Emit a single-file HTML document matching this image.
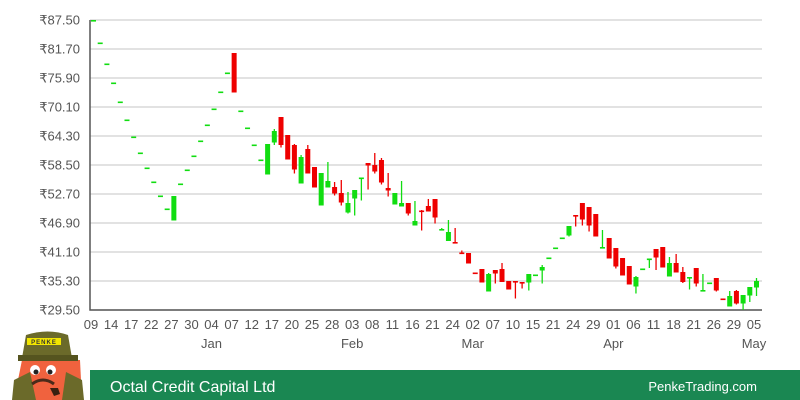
<!DOCTYPE html>
<html><head><meta charset="utf-8"><style>
body{margin:0;width:800px;height:400px;overflow:hidden;background:#fff;font-family:"Liberation Sans",sans-serif}
svg{display:block}
</style></head><body>
<svg id="chart" width="800" height="400">
<g id="grid"></g>
<g id="yaxis"></g>
<g id="xaxis"></g>
<g id="candles"></g>
<g>
<path d="M22 360 L80 360 L82 400 L14 400 Z" fill="#f0623e"/>
<path d="M14 380 L30 372 L36 400 L12 400 Z" fill="#6b6a2a"/>
<path d="M82 380 L66 372 L62 400 L84 400 Z" fill="#6b6a2a"/>
<path d="M26 335 Q48 328 68 335 L72 358 L22 358 Z" fill="#6b6a2a"/>
<rect x="18" y="355" width="60" height="6" fill="#55541f"/>
<rect x="27" y="338" width="34" height="7" fill="#f2e600"/>
<text x="44" y="344" font-size="6" font-weight="bold" text-anchor="middle" fill="#333" letter-spacing="1">PENKE</text>
<circle cx="35" cy="370" r="5" fill="#fff"/><circle cx="51" cy="370" r="5" fill="#fff"/>
<circle cx="36" cy="372" r="2.5" fill="#222"/><circle cx="50" cy="372" r="2.5" fill="#222"/>
<path d="M32 384 Q43 376 54 384" stroke="#4a2a1a" stroke-width="3" fill="none"/>
<path d="M50 388 L54 396 L60 394 L58 388 Z" fill="#3a2010"/>
</g>
<rect x="90" y="370" width="710" height="30" fill="#1a8752"/>
<text x="110" y="392" font-size="16" fill="#fff">Octal Credit Capital Ltd</text>
<text x="757" y="391" font-size="13" fill="#fff" text-anchor="end">PenkeTrading.com</text>
</svg>
<script>
const opens=[87.5,83.0,78.8,75.0,71.2,67.6,64.2,61.0,58.0,55.2,52.4,49.8,47.4,54.8,57.6,60.4,63.4,66.6,69.8,73.2,77.0,80.9,69.4,66.0,62.6,59.6,56.6,63.0,68.1,64.5,62.5,54.8,61.7,58.1,50.4,54.0,54.1,52.9,49.0,51.8,56.0,58.9,58.5,59.5,53.9,50.6,50.2,50.9,46.4,49.4,50.3,51.7,45.7,43.3,43.1,41.0,40.9,37.0,37.7,33.2,37.5,37.7,35.3,35.3,35.1,35.0,36.6,37.4,40.0,42.0,44.0,44.4,48.5,50.9,50.1,48.7,42.0,43.9,41.9,39.9,38.3,34.2,37.8,39.7,41.7,42.1,36.2,38.9,37.1,36.0,37.9,33.4,35.0,35.9,31.8,30.2,33.3,30.8,32.4,34.0];
const closes=[87.5,83.0,78.8,75.0,71.2,67.6,64.2,61.0,58.0,55.2,52.4,49.8,52.3,54.8,57.6,60.4,63.4,66.6,69.8,73.2,77.0,73.0,69.4,66.0,62.6,59.6,62.7,65.3,62.5,59.6,57.6,60.1,56.8,54.0,56.9,55.3,52.8,51.0,50.9,53.5,56.0,58.4,57.2,55.0,53.4,52.9,50.9,48.8,47.3,49.2,49.2,48.0,45.7,45.1,42.9,40.9,38.8,36.9,35.0,36.7,36.8,35.1,33.6,35.0,35.0,36.7,36.6,38.1,40.0,42.0,44.0,46.3,48.4,47.6,46.4,44.2,42.1,39.8,38.2,36.4,34.6,36.1,37.8,39.8,40.0,38.0,38.9,37.0,35.1,36.1,34.8,33.5,35.0,33.4,31.7,32.3,30.8,32.5,34.1,35.3];
const highs=[87.5,83.0,78.8,75.0,71.2,67.6,64.2,61.0,58.0,55.2,52.4,49.8,52.3,54.8,57.6,60.4,63.4,66.6,69.8,73.2,77.0,80.9,69.4,66.0,62.6,59.6,62.7,65.7,68.1,64.5,62.7,60.5,62.5,58.1,56.9,59.1,55.1,55.5,53.1,53.5,56.0,58.9,60.9,59.9,56.9,52.9,55.3,50.9,51.3,49.5,51.7,51.7,45.9,47.5,45.9,41.4,40.9,37.0,37.7,36.9,37.5,38.9,35.3,35.3,35.1,36.7,36.6,38.5,40.0,42.0,44.0,46.3,48.5,50.9,50.1,48.7,45.5,43.9,41.9,39.9,38.3,36.3,37.8,39.8,41.7,42.1,40.1,40.7,38.1,36.1,37.9,36.7,35.0,35.9,31.8,33.3,33.5,32.5,34.1,35.9];
const lows=[87.5,83.0,78.8,75.0,71.2,67.6,64.2,61.0,58.0,55.2,52.4,49.8,47.4,54.8,57.6,60.4,63.4,66.6,69.8,73.2,77.0,73.0,69.4,66.0,62.6,59.6,56.6,62.5,62.0,59.6,56.8,54.8,56.8,54.0,50.4,54.0,52.4,50.4,48.8,48.4,51.4,53.6,56.8,54.6,52.2,50.6,50.2,48.4,46.4,45.4,49.2,46.8,45.7,43.3,42.8,40.9,38.8,36.9,35.0,33.2,34.8,35.1,33.6,31.8,33.8,33.4,36.6,34.8,40.0,42.0,44.0,44.2,46.2,46.4,45.2,44.2,42.0,39.8,37.8,36.4,34.6,32.8,37.8,37.9,37.5,38.0,36.2,37.0,34.9,33.6,34.2,33.4,35.0,33.2,31.7,30.2,30.6,29.5,31.1,32.3];
const yTicks=[87.5,81.7,75.9,70.1,64.3,58.5,52.7,46.9,41.1,35.3,29.5];
const dayLabels=["09","14","17","22","27","30","04","07","12","17","20","25","28","03","08","11","16","21","24","02","07","10","15","21","24","29","01","06","11","18","21","26","29","05"];
const monthNames=["Jan","Feb","Mar","Apr","May"];
const monthLabelIdx=[6,13,19,26,33];

const NS="http://www.w3.org/2000/svg";
const yMin=29.5,yMax=87.5,plotTop=20,plotBottom=310,plotLeft=90,plotRight=762;
function yS(v){return plotTop+(yMax-v)/(yMax-yMin)*(plotBottom-plotTop);}
function xS(i){return 93.5+i*(756.5-93.5)/(opens.length-1);}
function mk(tag,attrs,parent){const e=document.createElementNS(NS,tag);for(const k in attrs)e.setAttribute(k,attrs[k]);parent.appendChild(e);return e;}
const grid=document.getElementById('grid'),ya=document.getElementById('yaxis'),xa=document.getElementById('xaxis'),cg=document.getElementById('candles');
yTicks.forEach(t=>{
  const ln=mk('line',{x1:plotLeft,x2:plotRight,y1:yS(t),y2:yS(t),stroke:'#d0d0d0','stroke-width':1.3},grid);
  
  
  const tx=mk('text',{x:80,y:yS(t)+4.5,'font-size':13,fill:'#555','text-anchor':'end'},ya);
  tx.textContent='\u20B9'+t.toFixed(2);
  
  
});
const ax=mk('path',{d:`M${plotLeft} ${plotTop} V${plotBottom} H${plotRight}`,stroke:'#555','stroke-width':1.5,fill:'none'},ya);


dayLabels.forEach((d,k)=>{
  const tx=mk('text',{x:xS(k*3)-2.5,y:329,'font-size':13,fill:'#555','text-anchor':'middle'},xa);
  tx.textContent=d;
  
  
});
monthNames.forEach((m,j)=>{
  const tx=mk('text',{x:xS(monthLabelIdx[j]*3)-2.5,y:348,'font-size':13,fill:'#555','text-anchor':'middle'},xa);
  tx.textContent=m;
  
  
});
opens.forEach((o,i)=>{
  const c=closes[i],col=c>=o?'#11dd11':'#ee0000',cx=xS(i);
  const g=mk('g',{},cg);
  
  
  mk('line',{x1:cx,x2:cx,y1:yS(highs[i]),y2:yS(lows[i]),stroke:col,'stroke-width':1.3},g);
  const yt=yS(Math.max(o,c)),yb=yS(Math.min(o,c));
  mk('rect',{x:cx-2.5,y:yt,width:5,height:Math.max(1.6,yb-yt),fill:col},g);
});
</script>
</body></html>
